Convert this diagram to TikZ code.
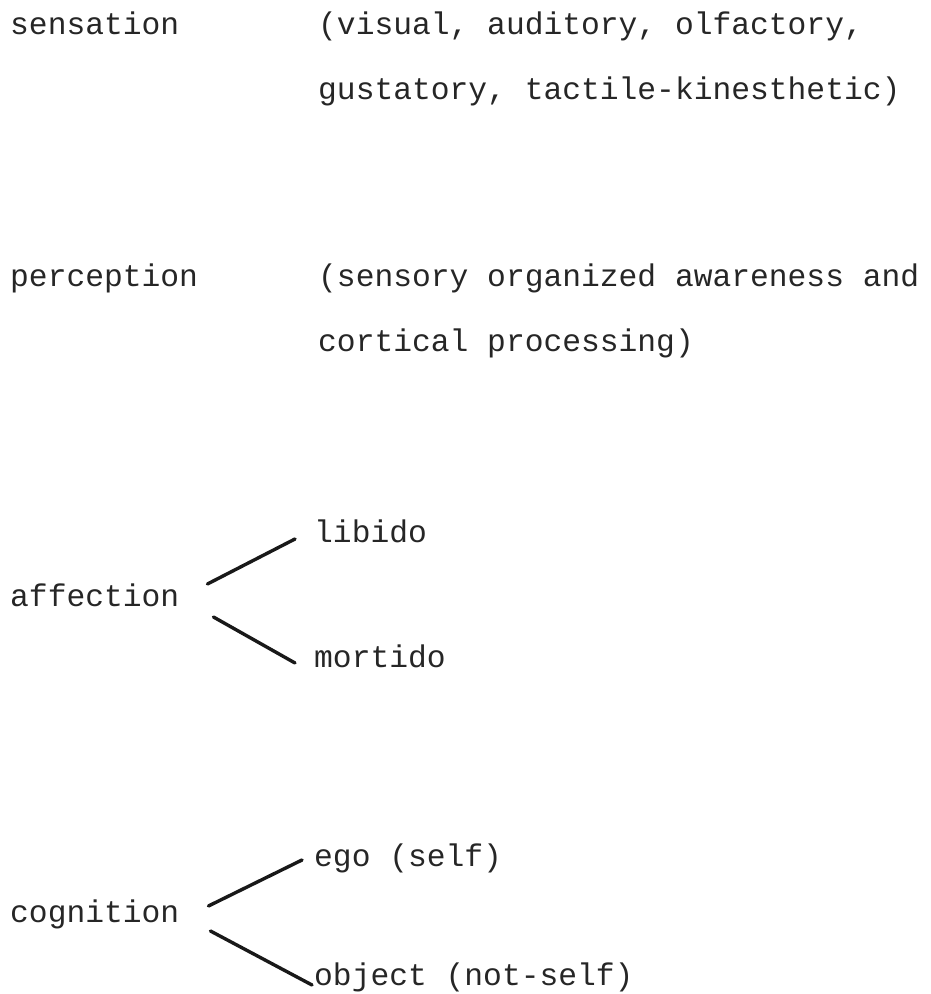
\documentclass[tikz,border=0pt]{standalone}
\usepackage{fontspec}
\setmonofont{Liberation Mono}
\usetikzlibrary{positioning}

\begin{document}
\begin{tikzpicture}[x=1pt, y=1pt,
  word/.style={anchor=base west, inner sep=0pt, text=black!85,
    font=\ttfamily\fontsize{31.3}{36}\selectfont},
  branch/.style={line width=3.4pt, line cap=round, black!90}]
\useasboundingbox (0,0) rectangle (931,994);

\node[word] (sens) at (10,959) {sensation};
\node[word] (sensA) at (318,959) {(visual, auditory, olfactory,};
\node[word] (sensB) at (318,894) {gustatory, tactile-kinesthetic)};

\node[word] (perc) at (10,707) {perception};
\node[word] (percA) at (318,707) {(sensory organized awareness and};
\node[word] (percB) at (318,642) {cortical processing)};

\node[word] (aff) at (10,387) {affection};
\node[word] (lib) at (314,451) {libido};
\node[word] (mort) at (314,326) {mortido};
\draw[branch] ([shift={(28,23)}]aff.base east) -- ([shift={(-19,4)}]lib.base west);
\draw[branch] ([shift={(34,-10)}]aff.base east) -- ([shift={(-19,5)}]mort.base west);

\node[word] (cog) at (10,71) {cognition};
\node[word] (ego) at (314,127) {ego (self)};
\node[word] (obj) at (314,9) {object (not-self)};
\draw[branch] ([shift={(29,17)}]cog.base east) -- ([shift={(-12,7)}]ego.base west);
\draw[branch] ([shift={(31,-8)}]cog.base east) -- ([shift={(-2,0)}]obj.base west);
\end{tikzpicture}
\end{document}
